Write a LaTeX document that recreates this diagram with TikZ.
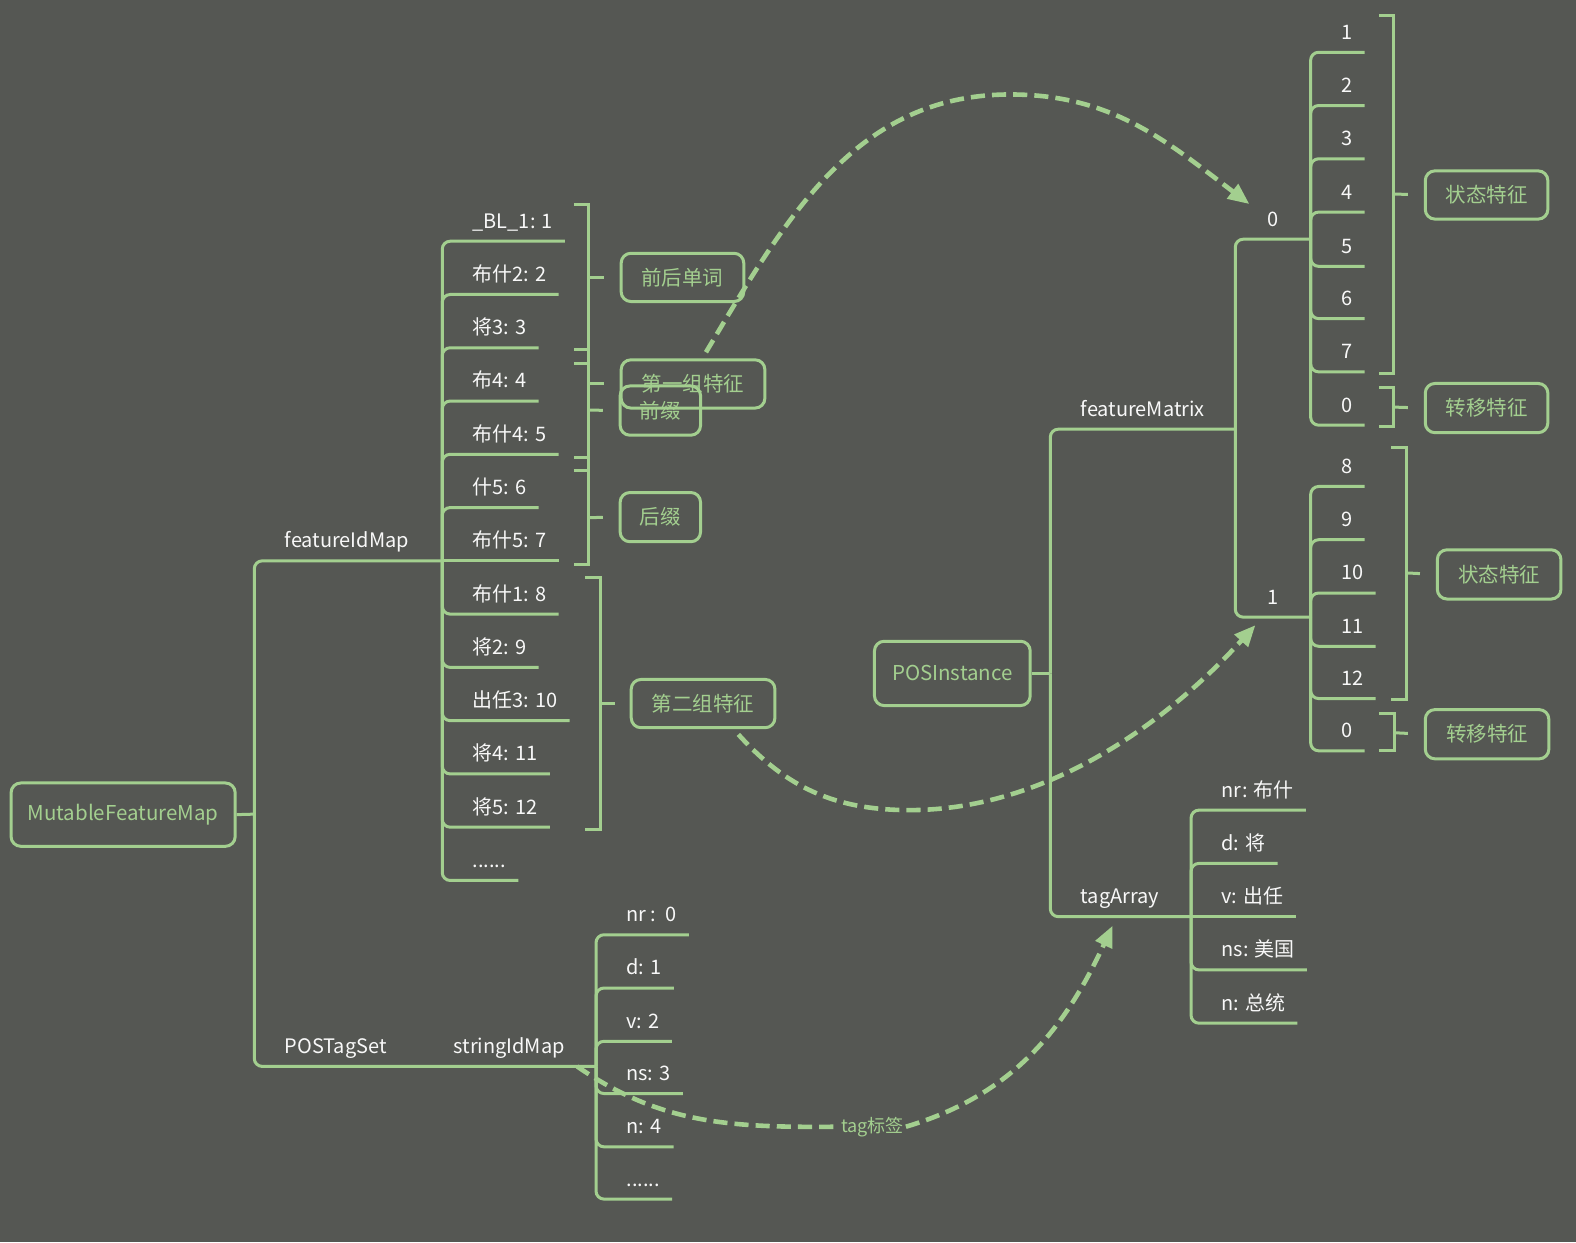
\documentclass[tikz,border=0pt]{standalone}
\usepackage{fontspec}
\setmainfont{Noto Sans CJK SC}
\usetikzlibrary{arrows.meta,positioning}
\definecolor{mmbg}{RGB}{85,87,83}
\definecolor{mmgreen}{RGB}{163,207,143}
\definecolor{mmtext}{RGB}{248,248,248}

\begin{document}
\begin{tikzpicture}[x=0.02cm,y=-0.02cm,
  topic/.style={draw=mmgreen,line width=1.7pt,rounded corners=5.5pt,text=mmgreen,
    font=\fontsize{11.6}{13}\selectfont,inner sep=0pt,minimum height=0.96cm},
  leaf/.style={anchor=south west,text=mmtext,font=\fontsize{11.3}{13}\selectfont,
    inner xsep=6.8pt,inner ysep=0pt,text depth=7.2pt},
  branch/.style={mmgreen,line width=1.7pt,rounded corners=4.5pt},
  bracket/.style={mmgreen,line width=1.7pt},
  dasharrow/.style={mmgreen,line width=2.6pt,dash pattern=on 8pt off 4pt,
    -{Triangle[length=12pt,width=10pt]}}
]
  % Background
  \fill[mmbg] (0,0) rectangle (1568,1236);
  \useasboundingbox (0,0) rectangle (1568,1236);

  % Left tree: MutableFeatureMap
  \node[topic,minimum width=4.46cm,minimum height=1.26cm] (mfm) at (122.5,810.5) {MutableFeatureMap};
  \coordinate (jroot) at (253,810);
  \coordinate (jfim) at (440,558);
  \coordinate (jsim) at (593,1061);
  \node[leaf] (fim) at (271,558) {featureIdMap};
  \node[leaf] (pts) at (271,1061) {POSTagSet};
  \node[leaf] (sim) at (439,1061) {stringIdMap};
  \draw[branch] (mfm.east) -- (jroot);
  \draw[branch] (jroot) |- (jfim);
  \draw[branch] (jroot) |- (jsim);

  % featureIdMap entries
  \node[leaf] (f1) at (458,240) {\_BL\_1: 1};
  \node[leaf] (f2) at (458,293) {布什2: 2};
  \node[leaf] (f3) at (458,346) {将3: 3};
  \node[leaf] (f4) at (458,399) {布4: 4};
  \node[leaf] (f5) at (458,452) {布什4: 5};
  \node[leaf] (f6) at (458,505) {什5: 6};
  \node[leaf] (f7) at (458,558) {布什5: 7};
  \node[leaf] (f8) at (458,611) {布什1: 8};
  \node[leaf] (f9) at (458,664) {将2: 9};
  \node[leaf] (f10) at (458,717) {出任3: 10};
  \node[leaf] (f11) at (458,770) {将4: 11};
  \node[leaf] (f12) at (458,823) {将5: 12};
  \node[leaf] (f13) at (458,876) {......};
  \foreach \i in {1,2,3,4,5,6,8,9,10,11,12,13}
    \draw[branch] (jfim) |- (f\i.south east);
  \draw[branch] (jfim) -- (f7.south east);

  % stringIdMap entries
  \node[leaf] (sd1) at (611,930) {nr :\ \ 0};
  \node[leaf] (sd2) at (611,983) {d: 1};
  \node[leaf] (sd3) at (611,1036) {v: 2};
  \node[leaf] (sd4) at (611,1088) {ns: 3};
  \node[leaf] (sd5) at (611,1141) {n: 4};
  \node[leaf] (sd6) at (611,1193) {......};
  \foreach \i in {1,...,6}
    \draw[branch] (jsim) |- (sd\i.south east);

  % Feature groups of featureIdMap
  \node[topic,minimum width=2.44cm] (qh) at (679,276) {前后单词};
  \node[topic,minimum width=2.86cm] (g1) at (689.5,382) {第一组特征};
  \node[topic,minimum width=1.6cm,minimum height=0.98cm] (qz) at (657,408.5) {前缀};
  \node[topic,minimum width=1.6cm,minimum height=0.98cm] (hz) at (657,514.5) {后缀};
  \node[topic,minimum width=2.86cm] (g2) at (699.5,700) {第二组特征};
  \draw[bracket] (571,203) -- (586,203) -- (586,348) -- (571,348);
  \draw[bracket] (571,203) -- (586,203) -- (586,562) -- (571,562);
  \draw[bracket] (571,362) -- (586,362) -- (586,455) -- (571,455);
  \draw[bracket] (571,468) -- (586,468) -- (586,562) -- (571,562);
  \draw[bracket] (582,575) -- (597,575) -- (597,825) -- (582,825);
  \draw[bracket,shorten >=9pt] (586,276) -- (qh.west);
  \draw[bracket,shorten >=9pt] (586,382) -- (g1.west);
  \draw[bracket,shorten >=9pt] (586,408) -- (qz.west);
  \draw[bracket,shorten >=9pt] (586,515) -- (hz.west);
  \draw[bracket,shorten >=8.5pt] (597,700) -- (g2.west);

  % Right tree: POSInstance
  \node[topic,minimum width=3.1cm,minimum height=1.28cm] (pi) at (947.5,670) {POSInstance};
  \coordinate (jpi) at (1045,670);
  \coordinate (jfm) at (1229,427);
  \coordinate (jta) at (1185,912);
  \coordinate (jm0) at (1304,238);
  \coordinate (jm1) at (1304,614);
  \node[leaf] (fm) at (1063,427) {featureMatrix};
  \node[leaf] (ta) at (1063,912) {tagArray};
  \node[leaf] (m0) at (1249,238) {0};
  \node[leaf] (m1) at (1249,614) {1};
  \draw[branch] (pi.east) -- (jpi);
  \draw[branch] (jpi) |- (jfm);
  \draw[branch] (jpi) |- (jta);
  \draw[branch] (jfm) |- (jm0);
  \draw[branch] (jfm) |- (jm1);

  % featureMatrix row 0
  \node[leaf] (a1) at (1322,52) {1};
  \node[leaf] (a2) at (1322,105) {2};
  \node[leaf] (a3) at (1322,158) {3};
  \node[leaf] (a4) at (1322,211) {4};
  \node[leaf] (a5) at (1322,265) {5};
  \node[leaf] (a6) at (1322,317) {6};
  \node[leaf] (a7) at (1322,370) {7};
  \node[leaf] (a8) at (1322,423) {0};
  \foreach \i in {1,...,8}
    \draw[branch] (jm0) |- (a\i.south east);

  % featureMatrix row 1
  \node[leaf] (b1) at (1322,484) {8};
  \node[leaf] (b2) at (1322,537) {9};
  \node[leaf] (b3) at (1322,590) {10};
  \node[leaf] (b4) at (1322,643) {11};
  \node[leaf] (b5) at (1322,695) {12};
  \node[leaf] (b6) at (1322,747) {0};
  \foreach \i in {1,...,6}
    \draw[branch] (jm1) |- (b\i.south east);

  % tagArray entries
  \node[leaf] (tg1) at (1203,806) {nr: 布什};
  \node[leaf] (tg2) at (1203,859) {d: 将};
  \node[leaf] (tg3) at (1203,912) {v: 出任};
  \node[leaf] (tg4) at (1203,965) {ns: 美国};
  \node[leaf] (tg5) at (1203,1018) {n: 总统};
  \foreach \i in {1,2,4,5}
    \draw[branch] (jta) |- (tg\i.south east);
  \draw[branch] (jta) -- (tg3.south east);

  % State and transition feature groups
  \node[topic,minimum width=2.44cm] (zt1) at (1479,194) {状态特征};
  \node[topic,minimum width=2.44cm,minimum height=0.98cm] (zy1) at (1479,406) {转移特征};
  \node[topic,minimum width=2.46cm,minimum height=0.98cm] (zt2) at (1491.5,571.5) {状态特征};
  \node[topic,minimum width=2.46cm,minimum height=0.98cm] (zy2) at (1479.5,730.5) {转移特征};
  \draw[bracket] (1372,15) -- (1386,15) -- (1386,372) -- (1372,372);
  \draw[bracket] (1372,386) -- (1386,386) -- (1386,424) -- (1372,424);
  \draw[bracket] (1384,445) -- (1399,445) -- (1399,696) -- (1384,696);
  \draw[bracket] (1372,710) -- (1387,710) -- (1387,747) -- (1372,747);
  \draw[bracket,shorten >=9pt] (1386,193) -- (zt1.west);
  \draw[bracket,shorten >=9pt] (1386,405) -- (zy1.west);
  \draw[bracket,shorten >=9pt] (1399,570) -- (zt2.west);
  \draw[bracket,shorten >=9pt] (1387,729) -- (zy2.west);

  % Dashed links
  \coordinate (tip0) at (1243,203);
  \coordinate (tip1) at (1249,622);
  \coordinate (tiptag) at (1107,921);
  \node[text=mmgreen,font=\fontsize{10.2}{12}\selectfont,inner sep=1pt] (tagl) at (868,1121) {tag标签};
  \draw[dasharrow,shorten <=4pt] (g1.70) .. controls (782,217) and (851,94) .. (1005,94)
    .. controls (1106,94) and (1160,140) .. (tip0);
  \draw[dasharrow,shorten <=4pt] (g2.-40) .. controls (782,783) and (830,806) .. (905,806)
    .. controls (1040,806) and (1160,720) .. (tip1);
  \draw[dasharrow,-] (sim.south east) .. controls (657,1118) and (724,1122) .. (tagl.west);
  \draw[dasharrow] (tagl.east) .. controls (1009,1089) and (1060,1022) .. (tiptag);
\end{tikzpicture}
\end{document}
